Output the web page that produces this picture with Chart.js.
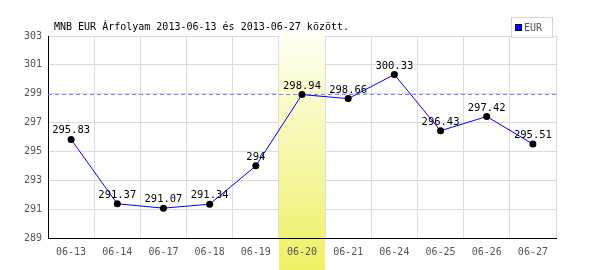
<!DOCTYPE html>
<html>
<head>
<meta charset="utf-8">
<script src="https://cdn.jsdelivr.net/npm/chart.js@4/dist/chart.umd.min.js"></script>
<style>
  html, body { margin: 0; padding: 0; background: #fff; }
  #chart { display: block; }
</style>
</head>
<body>
<canvas id="chart" width="600" height="270"></canvas>
<script>
// chart data
const chartTitle = 'MNB EUR Árfolyam 2013-06-13 és 2013-06-27 között.';
const seriesName = 'EUR';
const dayLabels = ['06-13', '06-14', '06-17', '06-18', '06-19', '06-20', '06-21', '06-24', '06-25', '06-26', '06-27'];
const eurValues = [295.83, 291.37, 291.07, 291.34, 294, 298.94, 298.66, 300.33, 296.43, 297.42, 295.51];
const highlightIndex = 5;
const yMin = 289, yMax = 303, yStep = 2;

const MONO = '"DejaVu Sans Mono", "Liberation Mono", monospace';

// yellow column for the selected day + dashed reference line
const highlightPlugin = {
    id: 'highlight',
    beforeDatasetsDraw: (chart) => {
        const { ctx, chartArea, scales } = chart;
        const x = scales.x;
        const half = (x.getPixelForValue(1) - x.getPixelForValue(0)) / 2;
        const cx = x.getPixelForValue(highlightIndex);
        const top = chartArea.top - 4;
        const grad = ctx.createLinearGradient(0, top, 0, chart.height);
        grad.addColorStop(0, '#fffff4');
        grad.addColorStop(1, '#eff064');
        ctx.save();
        ctx.fillStyle = grad;
        ctx.fillRect(cx - half, top, half * 2, chart.height - top);

        // tick label of the band back on top
        ctx.save();
        ctx.beginPath();
        ctx.rect(cx - half, chartArea.bottom + 1, half * 2, chart.height);
        ctx.clip();
        x.drawLabels(chartArea);
        ctx.restore();

        // bottom axis line back on top of the band
        ctx.strokeStyle = '#000';
        ctx.lineWidth = 1;
        ctx.beginPath();
        ctx.moveTo(chartArea.left, Math.round(chartArea.bottom) + 0.5);
        ctx.lineTo(chartArea.right, Math.round(chartArea.bottom) + 0.5);
        ctx.stroke();

        const yRef = Math.floor(scales.y.getPixelForValue(eurValues[highlightIndex])) + 0.5;
        ctx.strokeStyle = '#8080ff';
        ctx.setLineDash([4, 3]);
        ctx.beginPath();
        ctx.moveTo(chartArea.left, yRef);
        ctx.lineTo(chartArea.right, yRef);
        ctx.stroke();
        ctx.restore();
    }
};

// value labels, title and legend box
const textPlugin = {
    id: 'texts',
    afterDatasetsDraw: (chart) => {
        const { ctx } = chart;
        const meta = chart.getDatasetMeta(0);
        ctx.save();
        ctx.font = '10.5px ' + MONO;
        ctx.fillStyle = '#000';
        ctx.textAlign = 'center';
        ctx.textBaseline = 'alphabetic';
        meta.data.forEach((pt, i) => {
            ctx.fillText(String(eurValues[i]), pt.x, pt.y - 6);
        });
        ctx.restore();
    },
    afterDraw: (chart) => {
        const { ctx } = chart;
        ctx.save();
        ctx.font = '10px ' + MONO;
        ctx.textBaseline = 'alphabetic';
        ctx.textAlign = 'left';
        ctx.fillStyle = '#000';
        ctx.fillText(chartTitle, 54, 30);

        ctx.fillStyle = '#fff';
        ctx.fillRect(511, 17, 41, 20);
        ctx.strokeStyle = '#d6d6d6';
        ctx.lineWidth = 1;
        ctx.strokeRect(511.5, 17.5, 41, 20);
        ctx.fillStyle = '#0000ff';
        ctx.fillRect(515, 24, 6, 6);
        ctx.strokeStyle = '#00004a';
        ctx.strokeRect(515.5, 24.5, 6, 6);
        ctx.fillStyle = '#555';
        ctx.fillText(seriesName, 524, 31);
        ctx.restore();
    }
};

new Chart(document.getElementById('chart'), {
    type: 'line',
    data: {
        labels: dayLabels,
        datasets: [{
            label: seriesName,
            data: eurValues,
            borderColor: '#0000ff',
            borderWidth: 1,
            tension: 0,
            pointRadius: 3.5,
            pointBackgroundColor: '#000',
            pointBorderColor: '#000',
            pointBorderWidth: 0,
            fill: false
        }]
    },
    options: {
        responsive: false,
        devicePixelRatio: 1,
        animation: false,
        layout: { padding: { top: 36, right: 44, left: 0, bottom: 0 } },
        plugins: {
            legend: { display: false },
            tooltip: { enabled: false },
            title: { display: false }
        },
        scales: {
            x: {
                offset: true,
                grid: { offset: true, color: '#dcdcdc', drawTicks: false },
                border: { color: '#000', width: 1 },
                ticks: { color: '#555', font: { family: MONO, size: 10 }, padding: 8, maxRotation: 0 },
                afterFit: (scale) => { scale.height = 32; }
            },
            y: {
                min: yMin,
                max: yMax,
                grid: { color: '#dcdcdc', drawTicks: false },
                border: { color: '#000', width: 1 },
                ticks: { stepSize: yStep, color: '#555', font: { family: MONO, size: 10 }, padding: 6 },
                afterFit: (scale) => { scale.width = 48; }
            }
        }
    },
    plugins: [highlightPlugin, textPlugin]
});
</script>
</body>
</html>
